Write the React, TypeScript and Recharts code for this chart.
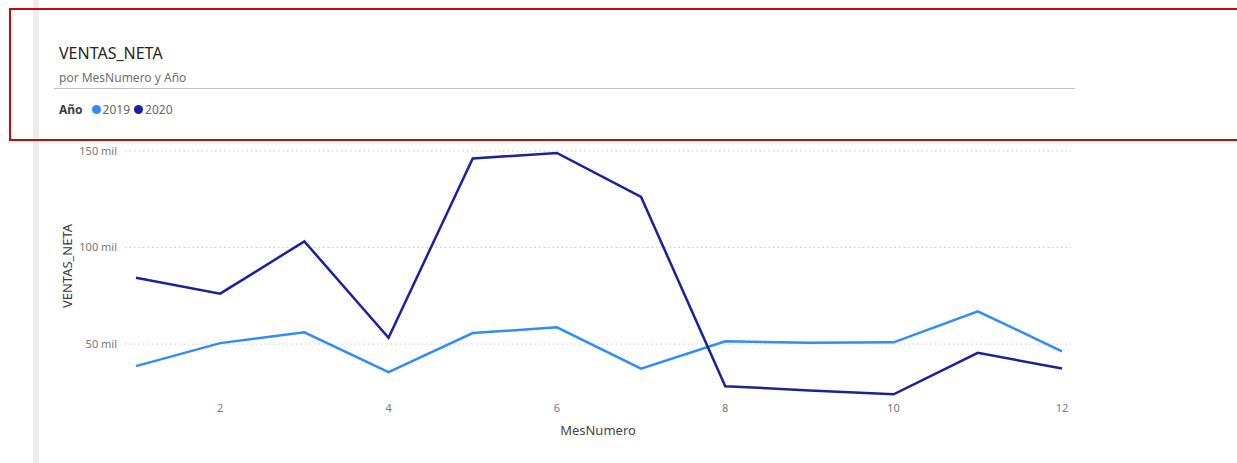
import { LineChart, Line, XAxis, YAxis, CartesianGrid } from 'recharts'

const months = [1, 2, 3, 4, 5, 6, 7, 8, 9, 10, 11, 12]
const ventas2019 = [38600, 50500, 56100, 35500, 55700, 58700, 37300, 51400, 50700, 50900, 67000, 46200]
const ventas2020 = [84400, 76100, 103200, 53300, 146100, 149000, 126200, 28200, 26000, 24000, 45500, 37300]
const yTicks = [50000, 100000, 150000]
const xTicks = [2, 4, 6, 8, 10, 12]

const series = [
  { key: 'y2019', name: '2019', color: '#2F8CF8' },
  { key: 'y2020', name: '2020', color: '#1A219C' },
]

const FONT = '"Noto Sans", "Open Sans", sans-serif'

const data = months.map((mes, i) => ({
  mes,
  y2019: ventas2019[i],
  y2020: ventas2020[i],
}))

const fmtMil = (v: number) => `${v / 1000} mil`

export default function App() {
  return (
    <div style={{ position: 'fixed', left: 0, top: 0, width: 1237, height: 463, background: '#fff', fontFamily: FONT, overflow: 'hidden' }}>
      {/* left page edge */}
      <div style={{ position: 'absolute', left: 33, top: 0, width: 6, height: 463, background: '#ECECEC' }} />

      <LineChart
        width={1237}
        height={463}
        data={data}
        margin={{ top: 151, right: 166, bottom: 21, left: 0 }}
        style={{ position: 'absolute', left: 0, top: 0 }}
      >
        <CartesianGrid vertical={false} horizontalValues={yTicks} stroke="#C9C9C9" strokeDasharray="1.5 3" />
        <XAxis
          dataKey="mes"
          type="number"
          domain={[1, 12]}
          ticks={xTicks}
          padding={{ left: 11, right: 9 }}
          height={40}
          axisLine={false}
          tickLine={false}
          tickSize={2}
          tickMargin={0}
          tick={{ fontSize: 11, fill: '#777', fontFamily: FONT }}
          label={{
            content: () => (
              <text x={598} y={430} textAnchor="middle" dominantBaseline="central" fontSize={13} fill="#444" fontFamily={FONT}>
                MesNumero
              </text>
            ),
          }}
        />
        <YAxis
          width={125}
          domain={[20000, 150000]}
          ticks={yTicks}
          tickFormatter={fmtMil}
          axisLine={false}
          tickLine={false}
          tick={{ fontSize: 11, fill: '#777', fontFamily: FONT }}
          label={{
            content: () => (
              <text x={67} y={266} transform="rotate(-90 67 266)" textAnchor="middle" dominantBaseline="central" fontSize={13} fill="#3a3a3a" fontFamily={FONT}>
                VENTAS_NETA
              </text>
            ),
          }}
        />
        {series.map((s) => (
          <Line
            key={s.key}
            dataKey={s.key}
            name={s.name}
            stroke={s.color}
            strokeWidth={2.5}
            dot={false}
            activeDot={false}
            isAnimationActive={false}
            type="linear"
          />
        ))}
      </LineChart>

      {/* header */}
      <div style={{ position: 'absolute', left: 59, top: 42, fontSize: 16, color: '#252423' }}>VENTAS_NETA</div>
      <div style={{ position: 'absolute', left: 59, top: 69, fontSize: 12, color: '#6f6f6f' }}>por MesNumero y Año</div>
      <div style={{ position: 'absolute', left: 54, top: 88, width: 1021, height: 1, background: '#BDBDBD' }} />
      <div style={{ position: 'absolute', left: 59, top: 101, fontSize: 12, color: '#555', display: 'flex', alignItems: 'center' }}>
        <span style={{ fontWeight: 700, color: '#3b3b3b', marginRight: 9 }}>Año</span>
        {series.map((s) => (
          <span key={s.key} style={{ display: 'flex', alignItems: 'center', marginRight: 4 }}>
            <span style={{ width: 9, height: 9, borderRadius: '50%', background: s.color, marginRight: 2 }} />
            <span style={{ color: '#666' }}>{s.name}</span>
          </span>
        ))}
      </div>

      {/* highlight box */}
      <div style={{ position: 'absolute', left: 9, top: 8, width: 1240, height: 129, border: '2px solid #C40A0A' }} />
    </div>
  )
}
